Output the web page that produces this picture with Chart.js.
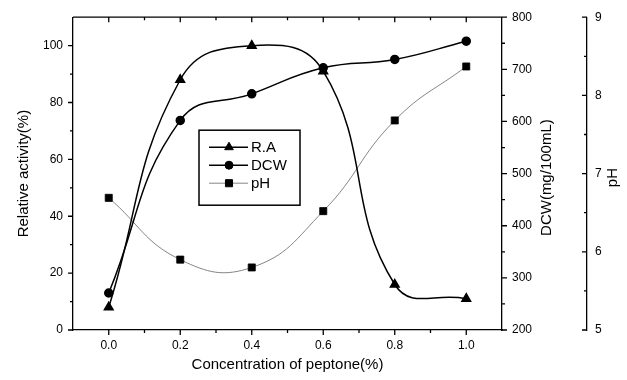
<!DOCTYPE html>
<html>
<head>
<meta charset="utf-8">
<title>Relative activity, DCW and pH vs peptone</title>
<script src="https://cdn.jsdelivr.net/npm/chart.js@4.4.1/dist/chart.umd.min.js"></script>
<style>
  html, body { margin: 0; padding: 0; background: #fff; }
  #wrap { width: 627px; height: 380px; }
</style>
</head>
<body>
<div id="wrap"><canvas id="chart" width="627" height="380"></canvas></div>
<script>
// values
const peptone     = [0.0, 0.2, 0.4, 0.6, 0.8, 1.0];
const relActivity = [8, 88, 100, 91, 16, 11];
const dcw         = [271, 602, 653, 703, 719, 754];
const ph          = [6.69, 5.90, 5.80, 6.52, 7.68, 8.37];

const xTicks   = [0, 0.2, 0.4, 0.6, 0.8, 1.0];
const raTicks  = [0, 20, 40, 60, 80, 100];
const dcwTicks = [200, 300, 400, 500, 600, 700, 800];
const phTicks  = [5, 6, 7, 8, 9];

const FAMILY = "'Liberation Sans', Arial, Helvetica, sans-serif";
const tickFont  = { family: FAMILY, size: 12 };
const titleFont = { family: FAMILY, size: 15 };

const pts = ys => peptone.map((x, i) => ({ x, y: ys[i] }));
const setTicks = list => s => { s.ticks = list.map(v => ({ value: v })); };
const midpoints = list => list.slice(1).map((v, i) => (v + list[i]) / 2);

// tick marks (major + minor), plus the top frame line
const frame = {
  id: 'frame',
  afterDraw(chart) {
    const { ctx, chartArea: a, scales } = chart;
    ctx.save();
    ctx.strokeStyle = '#000';
    ctx.lineWidth = 1.3;
    ctx.beginPath();
    ctx.moveTo(a.left, a.top); ctx.lineTo(a.right, a.top);

    const hMarks = (scale, list, y, dir) => {
      list.forEach(v => { const x = scale.getPixelForValue(v); ctx.moveTo(x, y); ctx.lineTo(x, y + dir); });
    };
    const vMarks = (scale, list, x, dir) => {
      list.forEach(v => { const y = scale.getPixelForValue(v); ctx.moveTo(x, y); ctx.lineTo(x + dir, y); });
    };
    hMarks(scales.x, xTicks, a.bottom, 5);
    hMarks(scales.x, midpoints(xTicks), a.bottom, 3);
    hMarks(scales.x, xTicks, a.top, 5);
    hMarks(scales.x, midpoints(xTicks), a.top, 3);
    vMarks(scales.y, raTicks, a.left, -5);
    vMarks(scales.y, midpoints(raTicks), a.left, -3);
    vMarks(scales.y2, dcwTicks, a.right, 5);
    vMarks(scales.y2, midpoints(dcwTicks), a.right, 3);
    vMarks(scales.y3, phTicks, scales.y3.left, -5);
    vMarks(scales.y3, midpoints(phTicks), scales.y3.left, -3);
    ctx.stroke();

    // right-hand axis titles, reading bottom to top
    const midY = (a.top + a.bottom) / 2 + 4;
    ctx.fillStyle = '#000';
    ctx.font = `15px ${FAMILY}`;
    ctx.textAlign = 'center';
    ctx.textBaseline = 'middle';
    [['DCW(mg/100mL)', scales.y2.left + 45], ['pH', scales.y3.left + 26]].forEach(([t, x]) => {
      ctx.save();
      ctx.translate(x, midY);
      ctx.rotate(-Math.PI / 2);
      ctx.fillText(t, 0, 0);
      ctx.restore();
    });

    // boxed legend inside the plot
    const bx = a.left + 126, by = a.top + 113;
    ctx.lineWidth = 1.5;
    ctx.strokeRect(bx, by, 101, 75);
    ctx.textAlign = 'left';
    chart.data.datasets.forEach((ds, i) => {
      const y = by + 17 + i * 18;
      ctx.save();
      ctx.strokeStyle = ds.borderColor;
      ctx.lineWidth = ds.borderWidth;
      ctx.beginPath(); ctx.moveTo(bx + 10, y); ctx.lineTo(bx + 49, y); ctx.stroke();
      ctx.fillStyle = '#000';
      ctx.strokeStyle = '#000';
      ctx.lineWidth = 1;
      Chart.helpers.drawPoint(ctx, { pointStyle: ds.pointStyle, radius: ds.pointRadius, borderWidth: 1 }, bx + 30, y);
      ctx.restore();
      ctx.fillText(ds.label, bx + 52, y + 1);
    });
    ctx.restore();
  }
};

const axisLook = {
  grid: { display: false, drawTicks: false },
  border: { display: true, color: '#000', width: 1.3 }
};

new Chart(document.getElementById('chart'), {
  type: 'line',
  data: {
    datasets: [
      { label: 'R.A', data: pts(relActivity), yAxisID: 'y',
        borderColor: '#000', borderWidth: 1.5, pointStyle: 'triangle', pointRadius: 5,
        pointBackgroundColor: '#000', pointBorderColor: '#000', tension: 0.45 },
      { label: 'DCW', data: pts(dcw), yAxisID: 'y2',
        borderColor: '#000', borderWidth: 1.5, pointStyle: 'circle', pointRadius: 4,
        pointBackgroundColor: '#000', pointBorderColor: '#000', tension: 0.45 },
      { label: 'pH', data: pts(ph), yAxisID: 'y3',
        borderColor: '#666', borderWidth: 0.8, pointStyle: 'rect', pointRadius: 5,
        pointBackgroundColor: '#000', pointBorderColor: '#000', tension: 0.45 }
    ]
  },
  options: {
    responsive: false,
    animation: false,
    devicePixelRatio: 1,
    layout: { padding: { top: 15, left: 0, right: 0, bottom: 0 } },
    plugins: { legend: { display: false }, tooltip: { enabled: false } },
    scales: {
      x: {
        type: 'linear', position: 'bottom', min: -0.1, max: 1.1, ...axisLook,
        afterBuildTicks: setTicks(xTicks),
        afterFit: s => { s.height = 50; },
        ticks: { color: '#000', font: tickFont, padding: 8, maxRotation: 0, autoSkip: false,
                 callback: v => v.toFixed(1) },
        title: { display: true, text: 'Concentration of peptone(%)', color: '#000',
                 font: titleFont, padding: { top: 0, bottom: 6 } }
      },
      y: {
        type: 'linear', position: 'left', min: 0, max: 110, ...axisLook,
        afterBuildTicks: setTicks(raTicks),
        afterFit: s => { s.width = 73; },
        ticks: { color: '#000', font: tickFont, padding: 10 },
        title: { display: true, text: 'Relative activity(%)', color: '#000',
                 font: titleFont, padding: { top: 15, bottom: 0 } }
      },
      y2: {
        type: 'linear', position: 'right', min: 200, max: 800, weight: 0, ...axisLook,
        afterBuildTicks: setTicks(dcwTicks),
        afterFit: s => { s.width = 85; },
        ticks: { color: '#000', font: tickFont, padding: 10 }
      },
      y3: {
        type: 'linear', position: 'right', min: 5, max: 9, weight: 1, ...axisLook,
        afterBuildTicks: setTicks(phTicks),
        afterFit: s => { s.width = 40; },
        ticks: { color: '#000', font: tickFont, padding: 8 }
      }
    }
  },
  plugins: [frame]
});
</script>
</body>
</html>
